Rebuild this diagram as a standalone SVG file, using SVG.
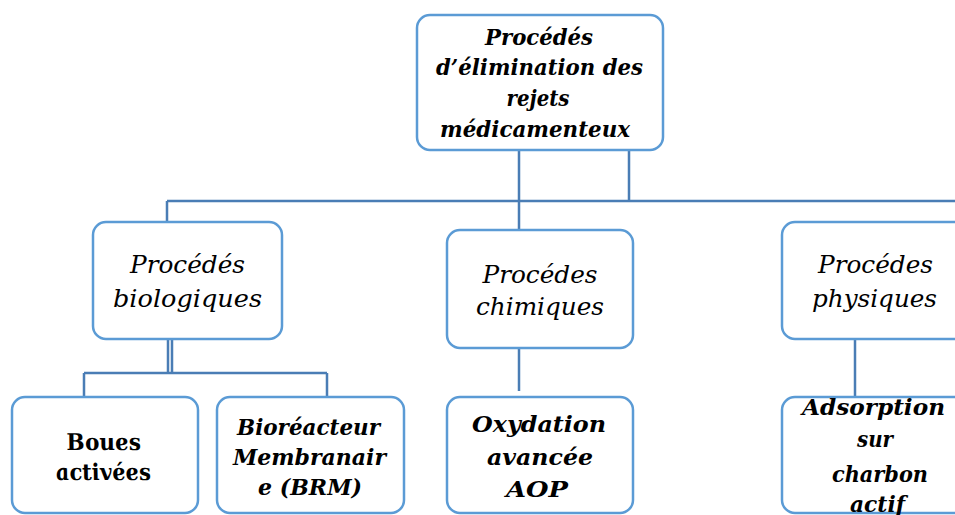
<svg xmlns="http://www.w3.org/2000/svg" width="955" height="515" viewBox="0 0 955 515">
<style>
.box{fill:#fff;stroke:#5b9bd5;stroke-width:2.5}
.con{fill:none;stroke:#4a7db5;stroke-width:2.5}
.t text{fill:#000;text-anchor:middle;font-family:"DejaVu Serif","Liberation Serif",serif}
.bi{font-weight:bold;font-style:italic;font-size:22px}
.it{font-style:italic;font-size:25px}
.b{font-weight:bold;font-style:italic;font-size:23px}
</style>
<rect width="955" height="515" fill="#fff"/>
<g id="connectors">
<path class="con" d="M519,150 V230 M629,150 V201 M167,201 H955 M167,201 V222"/>
<path class="con" d="M168,339 V373 M172,339 V373 M84,373 H327 M84,373 V397 M327,373 V397"/>
<path class="con" d="M519,348 V391"/>
<path class="con" d="M855,339 V397"/>
</g>
<g class="t">
<g id="root">
<rect class="box" x="417" y="15" width="246" height="135" rx="13"/>
<text class="bi" x="539" y="45" textLength="108" lengthAdjust="spacingAndGlyphs">Procédés</text>
<text class="bi" x="539.5" y="75" textLength="207" lengthAdjust="spacingAndGlyphs">d’élimination des</text>
<text class="bi" x="538" y="106" textLength="63" lengthAdjust="spacingAndGlyphs">rejets</text>
<text class="bi" x="535" y="137" textLength="190" lengthAdjust="spacingAndGlyphs">médicamenteux</text>
</g>
<g id="bio">
<rect class="box" x="93" y="222" width="189" height="117" rx="13"/>
<text class="it" x="187.5" y="273" textLength="115" lengthAdjust="spacingAndGlyphs">Procédés</text>
<text class="it" x="187.5" y="307" textLength="149" lengthAdjust="spacingAndGlyphs">biologiques</text>
</g>
<g id="chim">
<rect class="box" x="447" y="230" width="186" height="118" rx="13"/>
<text class="it" x="540" y="283" textLength="115" lengthAdjust="spacingAndGlyphs">Procédes</text>
<text class="it" x="540" y="315" textLength="128" lengthAdjust="spacingAndGlyphs">chimiques</text>
</g>
<g id="phys">
<rect class="box" x="782" y="222" width="190" height="117" rx="13"/>
<text class="it" x="875.5" y="273" textLength="115" lengthAdjust="spacingAndGlyphs">Procédes</text>
<text class="it" x="874.5" y="307" textLength="125" lengthAdjust="spacingAndGlyphs">physiques</text>
</g>
<g id="boues">
<rect class="box" x="12" y="397" width="186" height="116" rx="13"/>
<text class="b" transform="translate(105,450) skewX(11)" textLength="74" lengthAdjust="spacingAndGlyphs">Boues</text>
<text class="b" transform="translate(104.5,480) skewX(11)" textLength="95" lengthAdjust="spacingAndGlyphs">activées</text>
</g>
<g id="brm">
<rect class="box" x="217" y="397" width="187" height="116" rx="13"/>
<text class="bi" x="308.5" y="435" textLength="143" lengthAdjust="spacingAndGlyphs">Bioréacteur</text>
<text class="bi" x="309.5" y="465" textLength="153" lengthAdjust="spacingAndGlyphs">Membranair</text>
<text class="bi" x="310" y="495" textLength="104" lengthAdjust="spacingAndGlyphs">e (BRM)</text>
</g>
<g id="aop">
<rect class="box" x="447" y="397" width="186" height="116" rx="13"/>
<text class="bi" x="539" y="432" textLength="134" lengthAdjust="spacingAndGlyphs">Oxydation</text>
<text class="bi" x="540" y="465" textLength="106" lengthAdjust="spacingAndGlyphs">avancée</text>
<text class="bi" x="537" y="497" textLength="62" lengthAdjust="spacingAndGlyphs">AOP</text>
</g>
<g id="ads">
<rect class="box" x="782" y="397" width="190" height="116" rx="13"/>
<text class="bi" x="873.5" y="415" textLength="143" lengthAdjust="spacingAndGlyphs">Adsorption</text>
<text class="bi" x="875" y="447" textLength="36" lengthAdjust="spacingAndGlyphs">sur</text>
<text class="bi" x="880" y="482" textLength="96" lengthAdjust="spacingAndGlyphs">charbon</text>
<text class="bi" x="877.5" y="512" textLength="55" lengthAdjust="spacingAndGlyphs">actif</text>
</g>
</g>
</svg>
